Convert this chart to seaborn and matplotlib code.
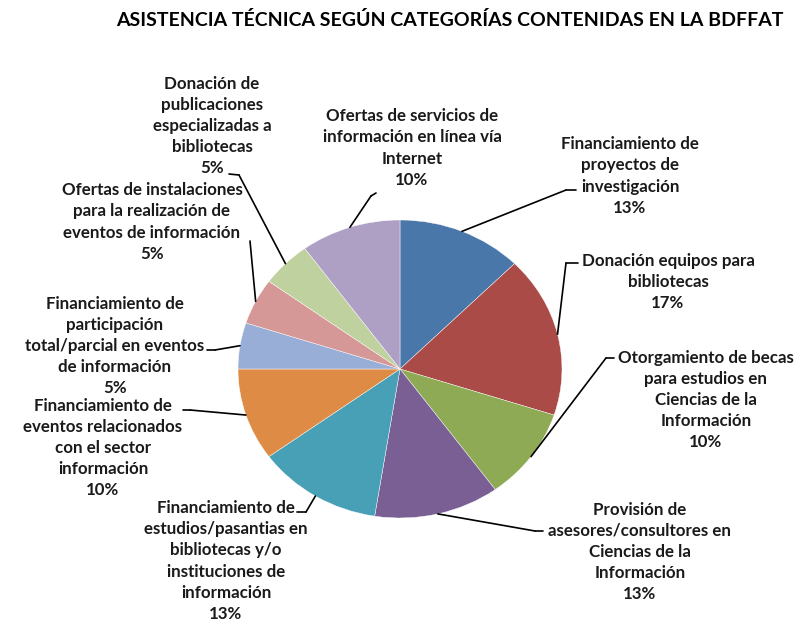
import numpy as np
import matplotlib
matplotlib.use("Agg")
import matplotlib.pyplot as plt
import seaborn as sns

# Data (counts; labels as printed on the chart)
categories = [
    "Financiamiento de\nproyectos de\ninvestigación",
    "Donación equipos para\nbibliotecas",
    "Otorgamiento de becas\npara estudios en\nCiencias de la\nInformación",
    "Provisión de\nasesores/consultores en\nCiencias de la\nInformación",
    "Financiamiento de\nestudios/pasantias en\nbibliotecas y/o\ninstituciones de\ninformación",
    "Financiamiento de\neventos relacionados\ncon el sector\ninformación",
    "Financiamiento de\nparticipación\ntotal/parcial en eventos\nde información",
    "Ofertas de instalaciones\npara la realización de\neventos de información",
    "Donación de\npublicaciones\nespecializadas a\nbibliotecas",
    "Ofertas de servicios de\ninformación en línea vía\nInternet",
]
counts = [5, 7, 4, 5, 5, 4, 2, 2, 2, 4]
pct_labels = ["13%", "17%", "10%", "13%", "13%", "10%", "5%", "5%", "5%", "10%"]

colors = ["#4A77AA", "#AA4B48", "#8EAA54", "#7A5F95", "#47A0B6",
          "#DE8B45", "#98AED6", "#D69896", "#BFD19E", "#AEA0C4"]

# label layout, in image pixels (x right, y down)
label_xy = [(630, 176), (668, 282), (706, 400), (640, 552), (226, 561),
            (103, 448), (115, 346), (152, 222), (212, 126), (412, 148)]
elbow_xy = [(566, 190), (566, 263), (606, 358), (535, 531), (306, 512),
            (190, 410), (215, 350), (250, 241), (239, 175), (371, 196)]
end_xy = [(576, 190), (578, 263), (614, 358), (543, 531), (297, 512),
          (183, 410), (207, 350), (250, 241), (229, 174), (376, 193)]

W, H = 804, 621
sns.set_theme(style="white")
plt.rcParams["font.family"] = ["Lato", "DejaVu Sans"]

fig = plt.figure(figsize=(W / 100, H / 100), dpi=100)
fig.patch.set_facecolor("white")

# pie box (slightly squashed, as in the original)
left, right, top, bottom = 238, 562, 220, 518
ax = fig.add_axes([left / W, (H - bottom) / H, (right - left) / W, (bottom - top) / H])
wedges, _ = ax.pie(counts, colors=colors, startangle=90, counterclock=False,
                   radius=1, wedgeprops=dict(linewidth=0.3, edgecolor="white"))
ax.set_aspect("auto")
ax.set_xlim(-1, 1)
ax.set_ylim(-1, 1)
ax.axis("off")

to_fig = lambda p: (p[0], H - p[1])

for w, cat, pct, lxy, exy, txy in zip(wedges, categories, pct_labels,
                                       label_xy, elbow_xy, end_xy):
    mid = np.deg2rad((w.theta1 + w.theta2) / 2)
    start = (np.cos(mid), np.sin(mid))
    ax.annotate("", xy=start, xycoords="data",
                xytext=to_fig(exy), textcoords="figure pixels",
                arrowprops=dict(arrowstyle="-", color="black", lw=1.2,
                                shrinkA=0, shrinkB=0))
    if exy != txy:
        ax.annotate("", xy=to_fig(exy), xycoords="figure pixels",
                    xytext=to_fig(txy), textcoords="figure pixels",
                    arrowprops=dict(arrowstyle="-", color="black", lw=1.2,
                                    shrinkA=0, shrinkB=0))
    fig.text(lxy[0] / W, (H - lxy[1]) / H, f"{cat}\n{pct}", ha="center",
             va="center", multialignment="center", fontsize=12.2,
             fontweight="bold", linespacing=1.4, color="#1a1a1a")

fig.text(450 / W, (H - 20) / H,
         "ASISTENCIA TÉCNICA SEGÚN CATEGORÍAS CONTENIDAS EN LA BDFFAT",
         ha="center", va="center", fontsize=14, fontweight="bold", color="black")

fig.savefig("out.png", dpi=100, facecolor="white")
